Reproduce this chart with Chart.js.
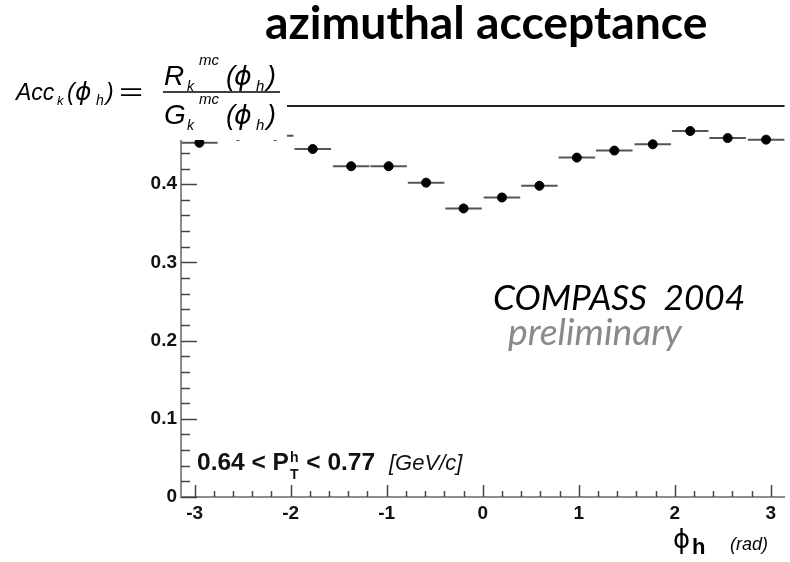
<!DOCTYPE html>
<html>
<head>
<meta charset="utf-8">
<script src="https://cdn.jsdelivr.net/npm/chart.js@4.4.1/dist/chart.umd.min.js"></script>
<style>
  body { margin: 0; background: #fff; }
  #chart { display: block; }
</style>
</head>
<body>
<canvas id="chart" width="790" height="562"></canvas>
<script>
// bin centres of phi_h (rad) and acceptance values
const phiCenters = [-2.95, -2.55, -2.16, -1.77, -1.37, -0.98, -0.59, -0.20,
                    0.20, 0.59, 0.98, 1.37, 1.77, 2.16, 2.55, 2.95];
const acceptance = [0.453, 0.462, 0.462, 0.445, 0.423, 0.423, 0.402, 0.369,
                    0.383, 0.398, 0.434, 0.443, 0.451, 0.468, 0.459, 0.457];
const binHalfWidth = 0.19;

// axis ticks
const xMajorTicks = [-3, -2, -1, 0, 1, 2, 3];
const xTickLabels = ["-3", "-2", "-1", "0", "1", "2", "3"];
const yMajorTicks = [0, 0.1, 0.2, 0.3, 0.4, 0.5];
const yTickLabels = ["0", "0.1", "0.2", "0.3", "0.4", "0.5"];

// minor ticks: 4 between each pair of majors
function withMinors(majors, step) {
  const out = [];
  for (let i = 0; i < majors.length - 1; i++) {
    for (let k = 0; k < 5; k++) out.push(+(majors[i] + k * step).toFixed(4));
  }
  out.push(majors[majors.length - 1]);
  return out;
}
const xTicks = withMinors(xMajorTicks, 0.2);
const yTicks = withMinors(yMajorTicks, 0.02);

function labelFor(majors, labels, v) {
  const i = majors.findIndex((m) => Math.abs(m - v) < 1e-6);
  return i >= 0 ? labels[i] : "";
}

function fitFont(ctx, text, style, family, width) {
  ctx.font = `${style} 100px ${family}`;
  const w = ctx.measureText(text).width;
  return `${style} ${(100 * width / w).toFixed(1)}px ${family}`;
}

const SANS = "'Liberation Sans', Arial, sans-serif";
const GREEK = "'DejaVu Sans', 'Liberation Sans', sans-serif";

// horizontal bin bars under the markers
const binBars = {
  id: "binBars",
  beforeDatasetsDraw(chart) {
    const { ctx, scales: { x, y } } = chart;
    ctx.save();
    ctx.strokeStyle = "#555";
    ctx.lineWidth = 2;
    phiCenters.forEach((c, i) => {
      const py = y.getPixelForValue(acceptance[i]);
      ctx.beginPath();
      ctx.moveTo(x.getPixelForValue(c - binHalfWidth), py);
      ctx.lineTo(x.getPixelForValue(c + binHalfWidth), py);
      ctx.stroke();
    });
    ctx.restore();
  },
};

function txt(ctx, s, font, x, y) {
  ctx.font = font;
  ctx.fillText(s, x, y);
}

// ticks inside the frame, top frame line, formula box and the texts
const decorations = {
  id: "decorations",
  afterDraw(chart) {
    const { ctx, chartArea: a, scales: { x, y } } = chart;
    ctx.save();

    ctx.strokeStyle = "#444";
    ctx.lineWidth = 1.5;
    yTicks.forEach((v) => {
      const major = labelFor(yMajorTicks, yTickLabels, v) !== "";
      const py = Math.round(y.getPixelForValue(v)) + 0.5;
      ctx.beginPath();
      ctx.moveTo(a.left, py);
      ctx.lineTo(a.left + (major ? 16 : 9), py);
      ctx.stroke();
    });
    xTicks.forEach((v) => {
      const major = labelFor(xMajorTicks, xTickLabels, v) !== "";
      const px = Math.round(x.getPixelForValue(v)) + 0.5;
      ctx.beginPath();
      ctx.moveTo(px, a.bottom);
      ctx.lineTo(px, a.bottom - (major ? 12 : 6));
      ctx.stroke();
    });

    // top frame
    ctx.strokeStyle = "#222";
    ctx.lineWidth = 2;
    ctx.beginPath();
    ctx.moveTo(a.left, a.top);
    ctx.lineTo(a.right, a.top);
    ctx.stroke();

    // white box of the pasted formula
    ctx.fillStyle = "#fff";
    ctx.fillRect(0, 52, 287, 88);

    ctx.fillStyle = "#000";
    ctx.textBaseline = "alphabetic";
    ctx.textAlign = "left";

    // title
    ctx.font = fitFont(ctx, "azimuthal acceptance", "bold", "Lato", 442);
    ctx.fillText("azimuthal acceptance", 265, 39);

    // formula  Acc_k(phi_h) = R_k^mc(phi_h) / G_k^mc(phi_h)
    txt(ctx, "Acc", `italic 23px ${SANS}`, 16, 100);
    txt(ctx, "k", `italic 13px ${SANS}`, 57, 105);
    txt(ctx, "(", `italic 23px ${SANS}`, 67, 100);
    txt(ctx, "\u03d5", `italic 25px ${GREEK}`, 75, 100);
    txt(ctx, "h", `italic 14px ${SANS}`, 96, 105);
    txt(ctx, ")", `italic 23px ${SANS}`, 106, 100);
    ctx.save();
    ctx.translate(119, 100);
    ctx.scale(1.8, 1);
    txt(ctx, "=", `23px ${SANS}`, 0, 0);
    ctx.restore();

    function fracPart(letter, base) {
      txt(ctx, letter, `italic 28px ${SANS}`, 164, base);
      txt(ctx, "k", `italic 14px ${SANS}`, 187, base + 6);
      txt(ctx, "mc", `italic 15px ${SANS}`, 199, base - 20);
      txt(ctx, "(", `italic 27px ${SANS}`, 226, base);
      txt(ctx, "\u03d5", `italic 27px ${GREEK}`, 234, base);
      txt(ctx, "h", `italic 15px ${SANS}`, 256, base + 6);
      txt(ctx, ")", `italic 27px ${SANS}`, 267, base);
    }
    fracPart("R", 85);
    fracPart("G", 124);
    ctx.strokeStyle = "#000";
    ctx.lineWidth = 1.5;
    ctx.beginPath();
    ctx.moveTo(163, 92);
    ctx.lineTo(280, 92);
    ctx.stroke();

    // experiment label
    ctx.font = fitFont(ctx, "COMPASS  2004", "italic", "Lato", 252);
    ctx.fillText("COMPASS  2004", 493, 310);
    ctx.fillStyle = "#8a8a8a";
    ctx.font = fitFont(ctx, "preliminary", "italic", "Lato", 174);
    ctx.fillText("preliminary", 508, 345);

    // pT bin
    ctx.fillStyle = "#111";
    let cx = 197;
    txt(ctx, "0.64 < P", `bold 24.5px ${SANS}`, cx, 470);
    cx += ctx.measureText("0.64 < P").width + 1;
    txt(ctx, "h", `bold 14px ${SANS}`, cx, 462);
    txt(ctx, "T", `bold 14px ${SANS}`, cx, 479);
    cx += ctx.measureText("h").width + 1;
    txt(ctx, " < 0.77", `bold 24.5px ${SANS}`, cx, 470);
    txt(ctx, "[GeV/c]", `italic 22px ${SANS}`, 389, 470);

    // x axis title
    ctx.fillStyle = "#000";
    txt(ctx, "\u03d5", `26px ${GREEK}`, 673, 548);
    txt(ctx, "h", `bold 22px ${SANS}`, 692, 554);
    txt(ctx, "(rad)", `italic 18px ${SANS}`, 730, 550);

    ctx.restore();
  },
};

new Chart(document.getElementById("chart"), {
  type: "scatter",
  data: {
    datasets: [
      {
        data: phiCenters.map((c, i) => ({ x: c, y: acceptance[i] })),
        pointRadius: 4.5,
        pointBackgroundColor: "#000",
        pointBorderColor: "#000",
        showLine: false,
      },
    ],
  },
  options: {
    responsive: false,
    animation: false,
    devicePixelRatio: 1,
    layout: { padding: { top: 106, left: 0, right: 0, bottom: 0 } },
    plugins: { legend: { display: false }, tooltip: { enabled: false } },
    scales: {
      x: {
        type: "linear",
        min: -Math.PI,
        max: Math.PI,
        afterBuildTicks: (axis) => {
          axis.ticks = xTicks.map((v) => ({ value: v }));
        },
        afterFit: (axis) => {
          axis.height = 65;
        },
        grid: { display: false },
        border: { display: true, color: "#8c8c8c", width: 2 },
        ticks: {
          autoSkip: false,
          maxRotation: 0,
          padding: -3,
          color: "#111",
          font: { family: SANS, size: 19, weight: "bold" },
          callback: (v) => labelFor(xMajorTicks, xTickLabels, v),
        },
      },
      y: {
        min: 0,
        max: 0.5,
        afterBuildTicks: (axis) => {
          axis.ticks = yTicks.map((v) => ({ value: v }));
        },
        afterFit: (axis) => {
          axis.width = 181;
        },
        grid: { display: false },
        border: { display: true, color: "#8c8c8c", width: 2 },
        ticks: {
          autoSkip: false,
          padding: -4,
          color: "#111",
          font: { family: SANS, size: 19, weight: "bold" },
          callback: (v) => labelFor(yMajorTicks, yTickLabels, v),
        },
      },
    },
  },
  plugins: [binBars, decorations],
});
</script>
</body>
</html>
